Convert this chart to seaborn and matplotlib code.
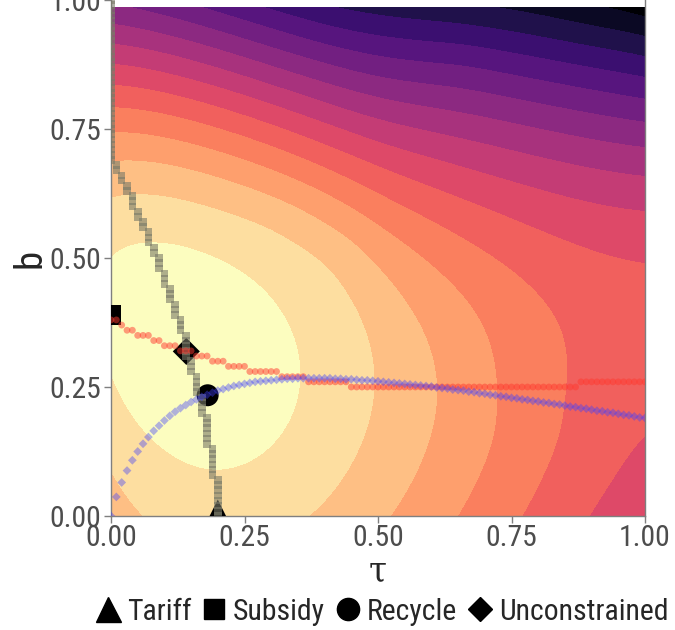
import numpy as np
import pandas as pd
import matplotlib
matplotlib.use("Agg")
import matplotlib.pyplot as plt
from matplotlib import font_manager as fm
from matplotlib.lines import Line2D
import seaborn as sns

# --- contour field: points read off the picture where the fill steps from
# band k-1 into band k (band 0 = lightest yellow, band 15 = black corner)
edge_tau = [0.0, 0.041, 0.105, 0.167, 0.2, 0.26, 0.316, 0.354, 0.35, 0.33, 0.294, 0.247, 0.176, 0.073, 0.0,  # k1
            0.0, 0.0, 0.066, 0.375, 0.468, 0.49, 0.485, 0.466, 0.425, 0.30, 0.176,  # k2
            0.0, 0.52, 0.595, 0.616, 0.555, 0.504,  # k3
            0.0, 0.645, 0.721, 0.715, 0.68, 0.504,  # k4
            0.0, 0.768, 0.848, 0.84, 0.82, 0.504,  # k5
            0.0, 0.895, 0.942, 0.989, 1.0, 1.0, 0.504,  # k6
            0.0, 1.0, 0.504,  # k7
            0.0, 1.0, 0.504,  # k8
            0.0, 1.0, 0.504,  # k9
            0.0, 1.0, 0.504, 0.048,  # k10
            1.0, 0.66, 0.178,  # k11
            1.0, 0.828, 0.296,  # k12
            1.0, 0.421,  # k13
            1.0, 0.715,  # k14
            1.0, 0.897]  # k15
edge_b = [0.273, 0.186, 0.128, 0.093, 0.083, 0.108, 0.153, 0.244, 0.30, 0.355, 0.40, 0.457, 0.502, 0.52, 0.516,
          0.09, 0.616, 0.0, 0.0, 0.147, 0.25, 0.33, 0.40, 0.502, 0.567, 0.599,
          0.684, 0.0, 0.147, 0.25, 0.40, 0.464,
          0.742, 0.0, 0.147, 0.25, 0.40, 0.551,
          0.793, 0.0, 0.147, 0.25, 0.40, 0.619,
          0.835, 0.0, 0.073, 0.147, 0.17, 0.502, 0.674,
          0.875, 0.589, 0.722,
          0.914, 0.657, 0.766,
          0.955, 0.713, 0.808,
          0.99, 0.762, 0.848, 0.984,
          0.806, 0.884, 0.984,
          0.849, 0.884, 0.984,
          0.89, 0.984,
          0.932, 0.984,
          0.971, 0.984]
edge_k = [1] * 15 + [2] * 11 + [3] * 6 + [4] * 6 + [5] * 6 + [6] * 7 + [7] * 3 + [8] * 3 + [9] * 3 \
    + [10] * 4 + [11] * 3 + [12] * 3 + [13] * 2 + [14] * 2 + [15] * 2

# top of the surface sits at the unconstrained optimum, a bit above the first edge
peak_tau, peak_b, peak_k = 0.141, 0.319, 0.3

# --- best-response tau for each b (grey squares), stored as runs over b = 0.00 .. 1.00
tau_best_values = [0.20, 0.19, 0.18, 0.17, 0.16, 0.15, 0.14, 0.13, 0.12, 0.11, 0.10,
                   0.09, 0.08, 0.07, 0.06, 0.05, 0.04, 0.03, 0.02, 0.01, 0.00]
tau_best_runs = [8, 6, 6, 4, 4, 3, 5, 3, 3, 3, 3, 3, 2, 3, 2, 2, 3, 2, 2, 2, 32]

# --- best-response b for each tau (red circles), runs over tau = 0.00 .. 1.00
b_best_values = [0.38, 0.37, 0.36, 0.35, 0.34, 0.33, 0.32, 0.31, 0.30, 0.29, 0.28, 0.27, 0.26, 0.25, 0.26]
b_best_runs = [2, 1, 2, 3, 2, 3, 3, 3, 3, 4, 6, 5, 8, 43, 13]

# --- revenue-recycling b for each tau = 0.00 .. 1.00 (blue diamonds)
recycle_b = [0.000, 0.037, 0.065, 0.088, 0.108, 0.125, 0.140, 0.153, 0.165, 0.175,
             0.185, 0.194, 0.202, 0.209, 0.215, 0.221, 0.226, 0.231, 0.235, 0.239,
             0.243, 0.246, 0.249, 0.252, 0.254, 0.256, 0.258, 0.260, 0.261, 0.262,
             0.263, 0.264, 0.265, 0.266, 0.266, 0.267, 0.267, 0.267, 0.267, 0.267,
             0.267, 0.267, 0.266, 0.266, 0.265, 0.265, 0.264, 0.263, 0.263, 0.262,
             0.261, 0.260, 0.259, 0.258, 0.257, 0.256, 0.255, 0.254, 0.253, 0.252,
             0.251, 0.249, 0.248, 0.247, 0.245, 0.244, 0.243, 0.241, 0.240, 0.238,
             0.237, 0.235, 0.234, 0.232, 0.231, 0.229, 0.228, 0.226, 0.225, 0.223,
             0.222, 0.220, 0.219, 0.217, 0.216, 0.214, 0.212, 0.211, 0.209, 0.208,
             0.206, 0.204, 0.203, 0.201, 0.200, 0.198, 0.196, 0.195, 0.193, 0.191, 0.190]

# --- optimal policies
policy = ["Tariff", "Subsidy", "Recycle", "Unconstrained"]
policy_tau = [0.20, 0.00, 0.181, 0.141]
policy_b = [0.00, 0.39, 0.234, 0.319]
policy_marker = ["^", "s", "o", "D"]

tick_vals = [0.0, 0.25, 0.5, 0.75, 1.0]
tick_labels = ["0.00", "0.25", "0.50", "0.75", "1.00"]


def poly_terms(t, b, deg=5):
    return np.column_stack([t ** i * b ** j for i in range(deg + 1) for j in range(deg + 1 - i)])


def tps_kernel(r):
    with np.errstate(divide="ignore", invalid="ignore"):
        k = r ** 2 * np.log(r)
    return np.nan_to_num(k)


def smooth_surface(px, py, pz, gx, gy, smooth=3e-2):
    """Polynomial trend through the edge points plus a smoothed thin-plate
    spline on what the trend misses."""
    coef, *_ = np.linalg.lstsq(poly_terms(px, py), pz, rcond=None)
    resid = pz - poly_terms(px, py) @ coef
    pts = np.column_stack([px, py])
    n = len(pts)
    K = tps_kernel(np.linalg.norm(pts[:, None] - pts[None], axis=-1)) + smooth * np.eye(n)
    P = np.column_stack([np.ones(n), pts])
    A = np.block([[K, P], [P.T, np.zeros((3, 3))]])
    sol = np.linalg.solve(A, np.concatenate([resid, np.zeros(3)]))
    g = np.column_stack([gx.ravel(), gy.ravel()])
    G = tps_kernel(np.linalg.norm(g[:, None] - pts[None], axis=-1))
    out = poly_terms(g[:, 0], g[:, 1]) @ coef + G @ sol[:n] + sol[n] + g @ sol[n + 1:]
    return out.reshape(gx.shape)


tau_grid = np.linspace(0, 1, 241)
b_grid = np.linspace(0, 0.986, 241)
T, B = np.meshgrid(tau_grid, b_grid)
Z = smooth_surface(np.array(edge_tau + [peak_tau]), np.array(edge_b + [peak_b]),
                   -np.array(edge_k + [peak_k], float), T, B)

n_bands = 16
levels = [-100] + list(range(-(n_bands - 1), 0)) + [100]
band_colors = [matplotlib.colors.to_hex(c) for c in plt.get_cmap("magma")(np.linspace(0, 1, n_bands))]

# Curves as data frames
steps = np.round(np.arange(101) * 0.01, 2)
df_tau = pd.DataFrame({"tau": np.repeat(tau_best_values, tau_best_runs), "b": steps})
df_b = pd.DataFrame({"tau": steps, "b": np.repeat(b_best_values, b_best_runs)})
df_rec = pd.DataFrame({"tau": steps, "b": recycle_b})
df_pol = pd.DataFrame({"tau": policy_tau, "b": policy_b, "policy": policy})

sns.set_theme(style="white")

# ggplot's text here is a narrow Helvetica; use a narrow face when one is installed
skip = ("Bold", "Italic", "Oblique", "Light", "Thin", "Medium", "Black", "Semi")
narrow = [f for f in fm.fontManager.ttflist
          if ("Narrow" in f.fname or "Condensed" in f.fname) and not any(s in f.fname for s in skip)]
narrow.sort(key=lambda f: ("Liberation" not in f.fname, "Roboto" not in f.fname))
if narrow:
    plt.rcParams["font.family"] = [narrow[0].name, "DejaVu Sans"]
    plt.rcParams["font.stretch"] = narrow[0].stretch
else:
    plt.rcParams["font.family"] = ["Liberation Sans", "DejaVu Sans"]

fig = plt.figure(figsize=(6.75, 6.3), dpi=100)

# size the text so the widths match the reference
probe = fig.text(0, 0, "Unconstrained", fontsize=22)
text_scale = 170 / probe.get_window_extent(renderer=fig.canvas.get_renderer()).width
probe.remove()
text_size = 22 * text_scale

ax = fig.add_axes([111 / 675, 114 / 630, 534 / 675, 516 / 630])

ax.contourf(T, B, Z, levels=levels, colors=band_colors, zorder=0)

# big policy markers first, the translucent curves go over them
sns.scatterplot(data=df_pol, x="tau", y="b", style="policy", markers=dict(zip(policy, policy_marker)),
                size="policy", sizes={"Tariff": 560, "Subsidy": 200, "Recycle": 250, "Unconstrained": 190},
                color="black", edgecolor="none", legend=False, ax=ax, zorder=3)
sns.scatterplot(data=df_tau, x="tau", y="b", marker="s", s=30, color="#7a7a68", alpha=0.6,
                edgecolor="none", legend=False, ax=ax, zorder=4)
sns.scatterplot(data=df_b, x="tau", y="b", marker="o", s=24, color="#ff3a30", alpha=0.5,
                edgecolor="none", legend=False, ax=ax, zorder=5)
sns.scatterplot(data=df_rec, x="tau", y="b", marker="D", s=20, color="#4040ff", alpha=0.4,
                edgecolor="none", legend=False, ax=ax, zorder=6)

ax.set_xlim(0, 1)
ax.set_ylim(0, 1)
ax.set_xticks(tick_vals)
ax.set_xticklabels(tick_labels)
ax.set_yticks(tick_vals)
ax.set_yticklabels(tick_labels)
ax.tick_params(axis="both", which="both", direction="out", length=5, width=1, color="#7f7f7f",
               labelsize=text_size, labelcolor="#4d4d4d", pad=2, left=True, bottom=True)
ax.tick_params(axis="x", pad=1)
for side in ["left", "bottom", "right"]:
    ax.spines[side].set_color("#7f7f7f")
    ax.spines[side].set_linewidth(1)
ax.spines["top"].set_visible(False)

ax.set_xlabel("τ", fontsize=26, family="DejaVu Serif", va="center")
ax.xaxis.set_label_coords(0.5, -0.105)
ax.set_ylabel("b", fontsize=28, va="center")
ax.yaxis.set_label_coords(-0.152, 0.5)

handles = [Line2D([], [], linestyle="", marker=m, color="black", markersize=ms)
           for m, ms in zip(policy_marker, [18, 14, 16, 12])]
fig.legend(handles, policy, loc="center", bbox_to_anchor=(0.566, 0.029), ncol=4, frameon=False,
           fontsize=text_size, handletextpad=0.25, columnspacing=0.35, handlelength=0.8)

fig.savefig("out.png", dpi=100)
